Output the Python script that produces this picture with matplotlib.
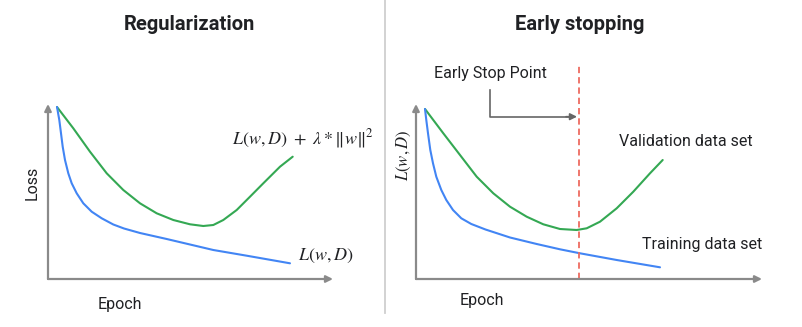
import matplotlib.pyplot as plt
from matplotlib.lines import Line2D

# regularization panel (epoch, loss)
reg_train_epoch = [0.9, 1.13, 1.3, 1.47, 1.7, 2.03, 2.37, 2.87, 3.53, 4.37, 5.37, 6.53, 7.6,
                   9.2, 11.87, 14.2, 16.53, 19.87, 24.2]
reg_train_loss = [17.2, 15.9, 14.57, 13.23, 11.9, 10.57, 9.57, 8.57, 7.57, 6.73, 6.07, 5.45, 5.05,
                  4.6, 4.0, 3.45, 2.9, 2.33, 1.57]
reg_total_epoch = [0.9, 2.53, 4.2, 5.87, 7.53, 9.2, 10.87, 12.53, 14.2, 15.53, 16.53, 17.53,
                   18.87, 20.2, 21.53, 23.2, 24.47]
reg_total_loss = [17.2, 15.07, 12.73, 10.57, 8.9, 7.57, 6.57, 5.9, 5.47, 5.3, 5.4, 5.9,
                  6.9, 8.23, 9.57, 11.23, 12.23]

# early stopping panel
es_train_epoch = [0.9, 1.03, 1.2, 1.43, 1.7, 2.03, 2.53, 3.03, 3.7, 4.53, 5.53, 6.95, 9.4,
                  12.07, 14.4, 16.4, 20.07, 24.4]
es_train_loss = [17.0, 15.9, 14.57, 12.9, 11.57, 10.23, 8.9, 7.9, 6.9, 6.07, 5.5, 4.95, 4.15,
                 3.5, 2.97, 2.57, 1.9, 1.17]
es_val_epoch = [0.9, 2.73, 4.4, 6.07, 7.73, 9.4, 11.07, 12.73, 14.4, 16.07, 17.07, 18.4,
                20.07, 21.73, 23.4, 24.67]
es_val_loss = [17.0, 14.57, 12.4, 10.23, 8.57, 7.23, 6.23, 5.47, 5.0, 4.9, 5.07, 5.73,
               7.07, 8.73, 10.57, 11.9]
early_stop_epoch = 16.33

GREEN = '#34a853'
BLUE = '#4285f4'
AXIS = '#8a8a8a'
TEXT = '#202124'

plt.rcParams['font.family'] = ['Roboto', 'DejaVu Sans']
plt.rcParams['mathtext.fontset'] = 'stix'

fig = plt.figure(figsize=(8.03, 3.27), dpi=100)
W, H = 803.0, 327.0


def make_axes(x0, x1, y0, y1):
    ax = fig.add_axes([x0 / W, (H - y0) / H, (x1 - x0) / W, (y0 - y1) / H])
    for s in ax.spines.values():
        s.set_visible(False)
    ax.set_xticks([])
    ax.set_yticks([])
    ax.patch.set_alpha(0)
    ax.set_xlim(0, (x1 - x0) / 10.0)
    ax.set_ylim(0, (y0 - y1) / 10.0)
    arrow = dict(arrowstyle='-|>', color=AXIS, lw=1.6, mutation_scale=10, shrinkA=0, shrinkB=0)
    ax.annotate('', xy=(1, 0), xytext=(0, 0), xycoords='axes fraction', arrowprops=arrow)
    ax.annotate('', xy=(0, 1), xytext=(0, 0), xycoords='axes fraction', arrowprops=arrow)
    return ax


# left panel
ax1 = make_axes(48, 333, 279, 104)
ax1.plot(reg_total_epoch, reg_total_loss, color=GREEN, lw=1.5, solid_capstyle='round',
         solid_joinstyle='round')
ax1.plot(reg_train_epoch, reg_train_loss, color=BLUE, lw=1.5, solid_capstyle='round',
         solid_joinstyle='round')
ax1.text(18.4, 14.0, r'$L(w,D)\ +\ \lambda * \|w\|^2$', fontsize=13, va='center', ha='left',
         color=TEXT)
ax1.text(25.0, 2.3, r'$L(w,D)$', fontsize=13, va='center', ha='left', color=TEXT)

# right panel
ax2 = make_axes(416, 762, 279, 104)
ax2.plot(es_val_epoch, es_val_loss, color=GREEN, lw=1.5, solid_capstyle='round',
         solid_joinstyle='round')
ax2.plot(es_train_epoch, es_train_loss, color=BLUE, lw=1.5, solid_capstyle='round',
         solid_joinstyle='round')
ax2.plot([early_stop_epoch, early_stop_epoch], [0, 21.4], color='#ee6b60', lw=1.3,
         linestyle=(0, (3.5, 2.2)), clip_on=False)
ax2.plot([7.4, 7.4, 15.4], [18.9, 16.23, 16.23], color='#666666', lw=1.2, clip_on=False)
ax2.annotate('', xy=(16.1, 16.23), xytext=(15.0, 16.23),
             arrowprops=dict(arrowstyle='-|>', color='#666666', lw=1.2, mutation_scale=10,
                             shrinkA=0, shrinkB=0), annotation_clip=False)
ax2.text(7.45, 20.5, 'Early Stop Point', fontsize=11.5, ha='center', va='center', color=TEXT)
ax2.text(27.0, 13.7, 'Validation data set', fontsize=11.5, ha='center', va='center', color=TEXT)
ax2.text(28.6, 3.5, 'Training data set', fontsize=11.5, ha='center', va='center', color=TEXT)

# titles and labels
fig.text(189 / W, 1 - 25 / H, 'Regularization', fontsize=14.5, fontweight='bold',
         ha='center', va='center', color=TEXT)
fig.text(580 / W, 1 - 25 / H, 'Early stopping', fontsize=14.5, fontweight='bold',
         ha='center', va='center', color=TEXT)
fig.text(120 / W, 1 - 304 / H, 'Epoch', fontsize=11.5, ha='center', va='center', color=TEXT)
fig.text(482 / W, 1 - 301 / H, 'Epoch', fontsize=11.5, ha='center', va='center', color=TEXT)
fig.text(32 / W, 1 - 183 / H, 'Loss', fontsize=11.5, rotation=90, ha='center', va='center',
         color=TEXT)
fig.text(404 / W, 1 - 155 / H, r'$L(w,D)$', fontsize=12, rotation=90, ha='center',
         va='center', color=TEXT)

# divider between panels
fig.add_artist(Line2D([385 / W, 385 / W], [1 - 313 / H, 1], color='#cfcfcf', lw=1.3))

fig.savefig('out.png', dpi=100, facecolor='white')
